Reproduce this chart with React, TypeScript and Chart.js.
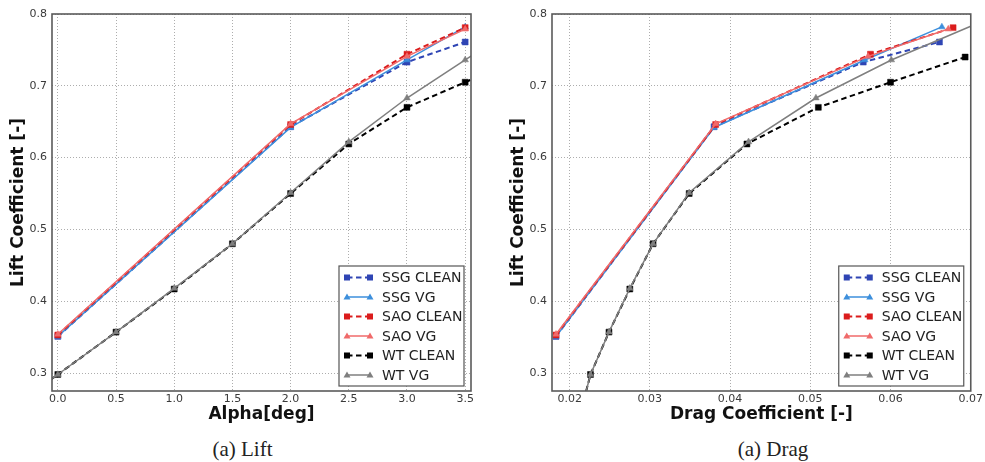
import React, { useEffect, useRef } from 'react';
import { Chart, registerables } from 'chart.js';

Chart.register(...registerables);

// ---------- data ----------
const ALPHA_CFD = [0, 2, 3, 3.5];
const ALPHA_WT = [-0.5, 0, 0.5, 1.0, 1.5, 2.0, 2.5, 3.0, 3.5, 4.0];

const SSG_CLEAN_CL = [0.351, 0.643, 0.733, 0.761];
const SSG_CLEAN_CD = [0.0183, 0.038, 0.0566, 0.0661];
const SSG_VG_CL = [0.351, 0.642, 0.736, 0.782];
const SSG_VG_CD = [0.0183, 0.038, 0.0568, 0.0664];
const SAO_CLEAN_CL = [0.353, 0.646, 0.744, 0.781];
const SAO_CLEAN_CD = [0.0183, 0.0382, 0.0575, 0.0678];
const SAO_VG_CL = [0.354, 0.647, 0.741, 0.779];
const SAO_VG_CD = [0.0183, 0.0382, 0.0572, 0.0672];
const WT_CLEAN_CL = [0.238, 0.298, 0.357, 0.417, 0.48, 0.55, 0.619, 0.67, 0.705, 0.74];
const WT_CLEAN_CD = [0.0212, 0.0226, 0.0249, 0.0275, 0.0304, 0.0349, 0.0421, 0.051, 0.06, 0.0693];
const WT_VG_CL = [0.238, 0.298, 0.357, 0.418, 0.48, 0.551, 0.622, 0.683, 0.736, 0.79];
const WT_VG_CD = [0.0212, 0.0226, 0.0249, 0.0275, 0.0304, 0.0349, 0.0423, 0.0507, 0.0601, 0.0715];

const LIFT_TICKS = [0.3, 0.4, 0.5, 0.6, 0.7, 0.8];
const ALPHA_TICKS = [0.0, 0.5, 1.0, 1.5, 2.0, 2.5, 3.0, 3.5];
const DRAG_TICKS = [0.02, 0.03, 0.04, 0.05, 0.06, 0.07];

const SERIES = [
  { label: 'SSG CLEAN', alpha: ALPHA_CFD, cl: SSG_CLEAN_CL, cd: SSG_CLEAN_CD, color: '#2f45b4', dash: true, marker: 'rect' },
  { label: 'SSG VG', alpha: ALPHA_CFD, cl: SSG_VG_CL, cd: SSG_VG_CD, color: '#3d8fdc', dash: false, marker: 'triangle' },
  { label: 'SAO CLEAN', alpha: ALPHA_CFD, cl: SAO_CLEAN_CL, cd: SAO_CLEAN_CD, color: '#db1c1c', dash: true, marker: 'rect' },
  { label: 'SAO VG', alpha: ALPHA_CFD, cl: SAO_VG_CL, cd: SAO_VG_CD, color: '#f06a6a', dash: false, marker: 'triangle' },
  { label: 'WT CLEAN', alpha: ALPHA_WT, cl: WT_CLEAN_CL, cd: WT_CLEAN_CD, color: '#000000', dash: true, marker: 'rect' },
  { label: 'WT VG', alpha: ALPHA_WT, cl: WT_VG_CL, cd: WT_VG_CD, color: '#7f7f7f', dash: false, marker: 'triangle' },
];

const FONT = '"DejaVu Sans", sans-serif';
const DASH = [5.5, 3.5];

function drawMarker(ctx: CanvasRenderingContext2D, style: string, x: number, y: number, color: string) {
  ctx.save();
  ctx.setLineDash([]);
  ctx.fillStyle = color;
  if (style === 'rect') {
    ctx.fillRect(x - 3, y - 3, 6, 6);
  } else {
    ctx.beginPath();
    ctx.moveTo(x, y - 3.5);
    ctx.lineTo(x + 3.5, y + 2.5);
    ctx.lineTo(x - 3.5, y + 2.5);
    ctx.closePath();
    ctx.fill();
  }
  ctx.restore();
}

const mplPlugin = {
  id: 'mplFrameLegend',
  afterDatasetsDraw(chart: any) {
    const { ctx, chartArea } = chart;
    ctx.save();
    ctx.strokeStyle = '#5a5a5a';
    ctx.lineWidth = 1.6;
    ctx.setLineDash([]);
    ctx.strokeRect(chartArea.left, chartArea.top, chartArea.right - chartArea.left, chartArea.bottom - chartArea.top);
    ctx.restore();
  },
  afterDraw(chart: any) {
    const { ctx, chartArea } = chart;
    const w = 125;
    const h = 120;
    const x0 = chartArea.right - 7 - w;
    const y0 = chartArea.bottom - 5 - h;
    ctx.save();
    ctx.fillStyle = '#ffffff';
    ctx.fillRect(x0, y0, w, h);
    ctx.strokeStyle = '#555555';
    ctx.lineWidth = 1.2;
    ctx.strokeRect(x0, y0, w, h);
    ctx.font = `14px ${FONT}`;
    ctx.textBaseline = 'middle';
    ctx.textAlign = 'left';
    SERIES.forEach((s, i) => {
      const cy = y0 + 11.5 + i * 19.5;
      const xa = x0 + 8;
      const xb = x0 + 31;
      ctx.save();
      ctx.strokeStyle = s.color;
      ctx.lineWidth = s.dash ? 2 : 1.5;
      ctx.setLineDash(s.dash ? DASH : []);
      ctx.beginPath();
      ctx.moveTo(xa, cy);
      ctx.lineTo(xb, cy);
      ctx.stroke();
      ctx.restore();
      drawMarker(ctx, s.marker, xa, cy, s.color);
      drawMarker(ctx, s.marker, xb, cy, s.color);
      ctx.fillStyle = '#222222';
      ctx.fillText(s.label, x0 + 43, cy + 1);
    });
    ctx.restore();
  },
};

type Props = {
  mode: 'alpha' | 'drag';
  width: number;
  height: number;
  xMin: number;
  xMax: number;
  xTicks: number[];
  xDecimals: number;
  xTitle: string;
  yAxisWidth: number;
  yTitlePad: number;
  padRight: number;
};

function PolarChart(p: Props) {
  const ref = useRef<HTMLCanvasElement | null>(null);
  useEffect(() => {
    if (!ref.current) return;
    const datasets = SERIES.map((s, i) => ({
      label: s.label,
      data: s.cl.map((cl, k) => ({ x: p.mode === 'alpha' ? s.alpha[k] : s.cd[k], y: cl })),
      showLine: true,
      borderColor: s.color,
      backgroundColor: s.color,
      borderWidth: s.dash ? 2 : 1.5,
      borderDash: s.dash ? DASH : [],
      pointStyle: s.marker,
      pointRadius: s.marker === 'rect' ? 4.2 : 3.8,
      pointBorderWidth: 0.5,
      pointBorderColor: s.color,
      pointBackgroundColor: s.color,
      tension: 0,
      order: SERIES.length - i,
    }));
    const chart = new Chart(ref.current, {
      type: 'scatter',
      data: { datasets },
      plugins: [mplPlugin],
      options: {
        animation: false,
        responsive: false,
        maintainAspectRatio: false,
        layout: { padding: { left: 0, top: 14, right: p.padRight, bottom: 0 } },
        plugins: { legend: { display: false }, tooltip: { enabled: false } },
        scales: {
          x: {
            type: 'linear',
            min: p.xMin,
            max: p.xMax,
            afterBuildTicks: (scale: any) => {
              scale.ticks = p.xTicks.map((v) => ({ value: v }));
            },
            afterFit: (scale: any) => {
              scale.height = 39;
            },
            ticks: {
              padding: 2,
              maxRotation: 0,
              autoSkip: false,
              color: '#3a3a3a',
              font: { family: FONT, size: 11 },
              callback: (v: any) => Number(v).toFixed(p.xDecimals),
            },
            grid: { color: 'rgba(0,0,0,0.32)', lineWidth: 1, drawTicks: false },
            border: { display: false, dash: [1, 2] },
            title: {
              display: true,
              text: p.xTitle,
              color: '#111111',
              font: { family: FONT, size: 17, weight: 'bold' },
              padding: { top: 0, bottom: 5 },
            },
          },
          y: {
            type: 'linear',
            min: 0.275,
            max: 0.8,
            afterBuildTicks: (scale: any) => {
              scale.ticks = LIFT_TICKS.map((v) => ({ value: v }));
            },
            afterFit: (scale: any) => {
              scale.width = p.yAxisWidth;
            },
            ticks: {
              padding: 5,
              color: '#3a3a3a',
              font: { family: FONT, size: 11 },
              callback: (v: any) => Number(v).toFixed(1),
            },
            grid: { color: 'rgba(0,0,0,0.32)', lineWidth: 1, drawTicks: false },
            border: { display: false, dash: [1, 2] },
            title: {
              display: true,
              text: 'Lift Coefficient [-]',
              color: '#111111',
              font: { family: FONT, size: 17, weight: 'bold' },
              padding: { top: p.yTitlePad, bottom: 0 },
            },
          },
        },
      } as any,
    });
    return () => chart.destroy();
  }, []);
  return (
    <canvas
      ref={ref}
      width={p.width}
      height={p.height}
      style={{ width: p.width, height: p.height, display: 'block' }}
    />
  );
}

const captionStyle: React.CSSProperties = {
  position: 'absolute',
  top: 436,
  height: 26,
  lineHeight: '26px',
  textAlign: 'center',
  fontFamily: '"Liberation Serif", "Times New Roman", serif',
  fontSize: 21,
  color: '#222',
};

export default function App() {
  return (
    <div style={{ position: 'fixed', left: 0, top: 0, width: 985, height: 462, background: '#fff', overflow: 'hidden' }}>
      <div style={{ position: 'absolute', left: 0, top: 0 }}>
        <PolarChart
          mode="alpha"
          width={490}
          height={430}
          xMin={-0.05}
          xMax={3.55}
          xTicks={ALPHA_TICKS}
          xDecimals={1}
          xTitle="Alpha[deg]"
          yAxisWidth={52}
          yTitlePad={8}
          padRight={19}
        />
      </div>
      <div style={{ position: 'absolute', left: 490, top: 0 }}>
        <PolarChart
          mode="drag"
          width={495}
          height={430}
          xMin={0.0178}
          xMax={0.07}
          xTicks={DRAG_TICKS}
          xDecimals={2}
          xTitle="Drag Coefficient [-]"
          yAxisWidth={62}
          yTitlePad={18}
          padRight={14}
        />
      </div>
      <div style={{ ...captionStyle, left: 0, width: 485 }}>(a) Lift</div>
      <div style={{ ...captionStyle, left: 490, width: 566 }}>(a) Drag</div>
    </div>
  );
}
